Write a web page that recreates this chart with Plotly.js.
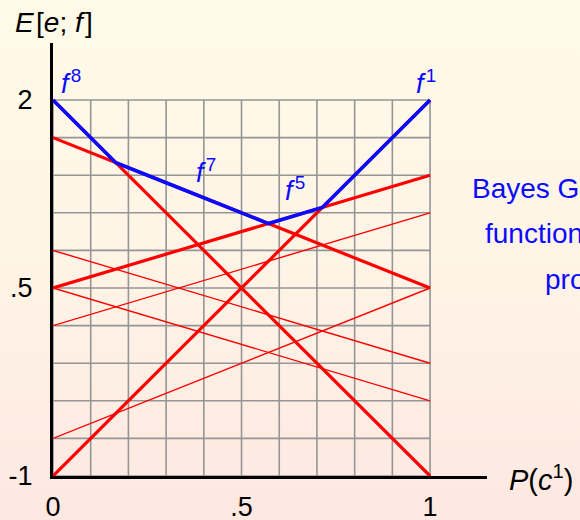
<!DOCTYPE html>
<html>
<head>
<meta charset="utf-8">
<script src="https://cdn.plot.ly/plotly-3.0.1.min.js"></script>
<style>
  html, body { margin: 0; padding: 0; }
  body {
    width: 580px; height: 520px; overflow: hidden;
    background: linear-gradient(to bottom, #fffae8 0%, #fff4e6 50%, #fde8e2 100%);
  }
  #chart { width: 580px; height: 520px; }
</style>
</head>
<body>
<div id="chart"></div>
<script>
// Decision functions f^k: expected gain E[e; f] is linear in P(c1),
// given by its value at P(c1) = 0 and at P(c1) = 1.
const lineNames = ['1', '2', '3', '4', '5', '6', '7', '8'];
const valueAtZero = [-1, 0.8, 0.5, 0.2, 0.5, -0.7, 1.7, 2];
const valueAtOne  = [2, -0.1, -0.4, 1.1, 1.4, 0.5, 0.5, -1];

// Axis ticks and grid
const xTickVals = [0, 0.5, 1];
const xTickText = ['0', '.5', '1'];
const yTickVals = [-1, 0.5, 2];
const yTickText = ['-1', '.5', '2'];
const gridX = [0, 0.1, 0.2, 0.3, 0.4, 0.5, 0.6, 0.7, 0.8, 0.9, 1];
const gridY = [-1, -0.7, -0.4, -0.1, 0.2, 0.5, 0.8, 1.1, 1.4, 1.7, 2];

const sideText = ['Bayes Gain as a', 'function of the', 'probability'];

const FONT = '"Liberation Sans", Arial, Helvetica, sans-serif';
const RED = '#ff0000';
const BLUE = '#0a0aff';
const HAIR = '\u200A';

function valueOf(i, p) { return valueAtZero[i] + (valueAtOne[i] - valueAtZero[i]) * p; }

// Upper envelope (the Bayes gain): max over all lines, evaluated at every crossing.
const xs = [0, 1];
for (let i = 0; i < lineNames.length; i++) {
  for (let j = i + 1; j < lineNames.length; j++) {
    const si = valueAtOne[i] - valueAtZero[i];
    const sj = valueAtOne[j] - valueAtZero[j];
    if (si === sj) continue;
    const p = (valueAtZero[j] - valueAtZero[i]) / (si - sj);
    if (p > 0 && p < 1) xs.push(p);
  }
}
xs.sort((a, b) => a - b);
const envX = [], envY = [];
const onEnvelope = new Set();
xs.forEach(p => {
  let best = -Infinity;
  lineNames.forEach((_, i) => { best = Math.max(best, valueOf(i, p)); });
  envX.push(p); envY.push(best);
});
// a line belongs to the envelope if it is the maximum somewhere between breakpoints
for (let k = 0; k + 1 < xs.length; k++) {
  const mid = (xs[k] + xs[k + 1]) / 2;
  let best = -Infinity, arg = -1;
  lineNames.forEach((_, i) => { const v = valueOf(i, mid); if (v > best) { best = v; arg = i; } });
  onEnvelope.add(arg);
}

const traces = lineNames.map((name, i) => ({
  type: 'scatter', mode: 'lines',
  x: [0, 1], y: [valueAtZero[i], valueAtOne[i]],
  line: { color: RED, width: onEnvelope.has(i) ? 3.2 : 1.4 },
  hoverinfo: 'skip', showlegend: false
}));
traces.push({
  type: 'scatter', mode: 'lines', x: envX, y: envY,
  line: { color: BLUE, width: 3.6 }, hoverinfo: 'skip', showlegend: false
});

const shapes = [];
gridX.forEach(v => shapes.push({ type: 'line', xref: 'x', yref: 'y', x0: v, x1: v, y0: -1, y1: 2,
  layer: 'below', line: { color: '#959595', width: 1.6 } }));
gridY.forEach(v => shapes.push({ type: 'line', xref: 'x', yref: 'y', x0: 0, x1: 1, y0: v, y1: v,
  layer: 'below', line: { color: '#959595', width: 1.6 } }));

// labels for the functions on the envelope
const labelPos = { '8': [0.048, 2.14], '1': [0.99, 2.14], '7': [0.406, 1.43], '5': [0.643, 1.29] };
const annotations = [];
onEnvelope.forEach(i => {
  const pos = labelPos[lineNames[i]];
  if (!pos) return;
  annotations.push({ xref: 'x', yref: 'y', x: pos[0], y: pos[1], showarrow: false,
    text: '<i>f</i>' + HAIR + '<sup>' + lineNames[i] + '</sup>',
    font: { family: FONT, size: 27, color: BLUE } });
});

annotations.push({ xref: 'paper', yref: 'paper', x: -0.092, y: 1.048, xanchor: 'left', yanchor: 'middle',
  showarrow: false, text: '<i>E</i>' + HAIR + '[<i>e</i>; <i>f</i>' + HAIR + ']',
  font: { family: FONT, size: 28, color: '#000' } });
annotations.push({ xref: 'paper', yref: 'paper', x: 1.046, y: -0.005, xanchor: 'left', yanchor: 'middle',
  showarrow: false, text: '<i>P</i>(<i>c</i><sup>1</sup>)', font: { family: FONT, size: 29, color: '#000' } });

const sideX = [470, 483, 543];
const sideY = [188, 233, 279];
sideText.forEach((t, k) => annotations.push({ xref: 'paper', yref: 'paper',
  x: (sideX[k] - 53) / 434, y: (476 - sideY[k]) / 433, xanchor: 'left', yanchor: 'middle',
  showarrow: false, text: t, font: { family: FONT, size: 28, color: BLUE } }));

const axisCommon = {
  showline: true, linewidth: 3, linecolor: '#000', showgrid: false, zeroline: false,
  ticks: '', tickfont: { family: FONT, size: 27, color: '#000' }, fixedrange: true
};

const layout = {
  width: 580, height: 520,
  margin: { l: 53, r: 93, t: 43, b: 44 },
  paper_bgcolor: 'rgba(0,0,0,0)', plot_bgcolor: 'rgba(0,0,0,0)',
  xaxis: Object.assign({}, axisCommon, { range: [0, 1.151], tickvals: xTickVals, ticktext: xTickText, ticklabelstandoff: 5 }),
  yaxis: Object.assign({}, axisCommon, { range: [-1, 2.455], tickvals: yTickVals, ticktext: yTickText, ticklabelstandoff: 12 }),
  shapes: shapes, annotations: annotations, showlegend: false
};

Plotly.newPlot('chart', traces, layout, { displayModeBar: false, staticPlot: true });
</script>
</body>
</html>
